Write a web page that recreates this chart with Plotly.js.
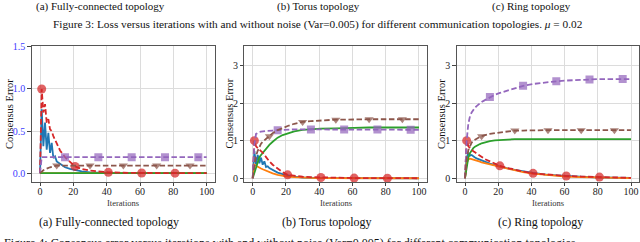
<!DOCTYPE html>
<html>
<head>
<meta charset="utf-8">
<script src="https://cdn.plot.ly/plotly-3.0.1.min.js"></script>
<style>
html,body{margin:0;padding:0;background:#fff;}
#chart{width:640px;height:242px;}
</style>
</head>
<body>
<div id="chart"></div>
<script>
// ---------- data ----------
const iterations = [0,1,2,3,4,5,6,7,8,9,10,12,15,18,21,25,30,35,41,50,55,61,70,75,81,90,95,100];

// (a) Fully-connected
const fcBlue   = [0,0.76,0.32,0.6,0.28,0.48,0.24,0.36,0.18,0.2,0.14,0.11,0.07,0.05,0.035,0.02,0.01,0.006,0.003,0.001,0,0,0,0,0,0,0,0];
const fcOrange = [0,0,0,0,0,0,0,0,0,0,0,0,0,0,0,0,0,0,0,0,0,0,0,0,0,0,0,0];
const fcGreen  = [0,0,0,0,0,0,0,0,0,0,0,0,0,0,0,0,0,0,0,0,0,0,0,0,0,0,0,0];
const fcRed    = [0,1.0,0.72,0.82,0.6,0.64,0.52,0.5,0.44,0.4,0.35,0.27,0.19,0.13,0.08,0.05,0.03,0.02,0.01,0.005,0.003,0.002,0.001,0,0,0,0,0];
const fcPurple = [0,0.19,0.19,0.19,0.19,0.19,0.19,0.19,0.19,0.19,0.19,0.19,0.19,0.19,0.19,0.19,0.19,0.19,0.19,0.19,0.19,0.19,0.19,0.19,0.19,0.19,0.19,0.19];
const fcBrown  = [0,0.02,0.035,0.045,0.055,0.065,0.07,0.075,0.08,0.085,0.09,0.09,0.09,0.09,0.09,0.09,0.09,0.09,0.09,0.09,0.09,0.09,0.09,0.09,0.09,0.09,0.09,0.09];

// (b) Torus
const toBlue   = [0,0.72,0.36,0.62,0.4,0.55,0.36,0.45,0.3,0.32,0.27,0.22,0.15,0.11,0.08,0.045,0.02,0.01,0.005,0.002,0.001,0,0,0,0,0,0,0];
const toOrange = [0,0.36,0.33,0.3,0.28,0.26,0.24,0.22,0.2,0.18,0.16,0.13,0.09,0.065,0.045,0.03,0.015,0.008,0.004,0.001,0,0,0,0,0,0,0,0];
const toGreen  = [0,0.15,0.3,0.44,0.56,0.62,0.68,0.74,0.8,0.85,0.89,0.97,1.08,1.15,1.2,1.25,1.29,1.31,1.32,1.33,1.34,1.34,1.35,1.35,1.35,1.35,1.35,1.35];
const toRed    = [0,1.0,0.85,0.8,0.78,0.72,0.68,0.62,0.56,0.5,0.45,0.36,0.25,0.16,0.09,0.06,0.04,0.03,0.02,0.01,0.008,0.005,0.003,0.002,0.001,0,0,0];
const toPurple = [0,0.9,1.18,1.21,1.23,1.24,1.25,1.25,1.26,1.26,1.26,1.27,1.28,1.29,1.29,1.3,1.3,1.3,1.3,1.3,1.3,1.3,1.3,1.3,1.29,1.29,1.29,1.29];
const toBrown  = [0,0.35,0.6,0.73,0.85,0.92,0.97,1.01,1.05,1.09,1.12,1.2,1.28,1.34,1.39,1.45,1.5,1.52,1.54,1.56,1.56,1.57,1.57,1.57,1.57,1.57,1.57,1.57];

// (c) Ring
const riBlue   = [0,0.55,0.68,0.6,0.62,0.57,0.55,0.53,0.51,0.49,0.47,0.44,0.39,0.35,0.31,0.27,0.22,0.18,0.14,0.09,0.075,0.055,0.035,0.028,0.02,0.014,0.011,0.008];
const riOrange = [0,0.4,0.5,0.52,0.51,0.5,0.48,0.47,0.45,0.44,0.42,0.4,0.36,0.32,0.29,0.25,0.2,0.16,0.12,0.08,0.065,0.045,0.03,0.023,0.016,0.01,0.008,0.005];
const riGreen  = [0,0.3,0.55,0.67,0.75,0.8,0.84,0.87,0.89,0.91,0.93,0.96,0.99,1.01,1.02,1.03,1.04,1.04,1.04,1.04,1.04,1.04,1.04,1.04,1.04,1.04,1.04,1.04];
const riRed    = [0,1.0,0.85,0.8,0.76,0.72,0.69,0.66,0.62,0.59,0.56,0.51,0.45,0.38,0.33,0.28,0.22,0.18,0.13,0.09,0.075,0.06,0.045,0.038,0.03,0.02,0.015,0.01];
const riPurple = [0,1.0,1.45,1.65,1.75,1.82,1.88,1.92,1.96,2.0,2.03,2.08,2.16,2.22,2.27,2.33,2.4,2.46,2.51,2.56,2.58,2.6,2.62,2.63,2.64,2.64,2.64,2.64];
const riBrown  = [0,0.5,0.75,0.88,0.95,1.0,1.03,1.06,1.08,1.1,1.12,1.15,1.18,1.2,1.22,1.24,1.27,1.27,1.28,1.28,1.28,1.28,1.28,1.28,1.28,1.28,1.28,1.28];

// marker iterations
const redMarkIt    = [1,21,41,61,81];
const purpleMarkIt = [15,35,55,75,95];
const brownMarkIt  = [10,30,50,70,90];

// tick labels
const xTicks = [0,20,40,60,80,100];
const fcYTicks = [0,0.5,1.0,1.5];
const fcYTickText = ["0.0","0.5","1.0","1.5"];
const otherYTicks = [0,1,2,3];

// text
const topCaptions = ["(a) Fully-connected topology","(b) Torus topology","(c) Ring topology"];
const fig3Caption = "Figure 3: Loss versus iterations with and without noise (Var=0.005) for different communication topologies. <i>μ</i> = 0.02";
const fig4Caption = "Figure 4: Consensus error versus iterations with and without noise (Var=0.005) for different communication topologies.";
const xTitle = "Iterations";
const yTitle = "Consensus Error";

// ---------- drawing ----------
const W = 640, H = 242;
const C = {blue:'#1f77b4', orange:'#ff7f0e', green:'#2ca02c', red:'#d62728', purple:'#9467bd', brown:'#8c564b'};
const SERIF = '"Liberation Serif", "DejaVu Serif", serif';
const DASH = '5.5px,2.6px';

function pick(series, its){ return its.map(i => series[iterations.indexOf(i)]); }

const traces = [];
function addPanel(n, s){
  const xa = n === 1 ? 'x' : 'x' + n, ya = n === 1 ? 'y' : 'y' + n;
  const line = (y, color, dash) => ({x: iterations, y: y, xaxis: xa, yaxis: ya, mode: 'lines',
      line: {color: color, width: 1.8, dash: dash || 'solid'}, hoverinfo: 'skip', showlegend: false});
  traces.push(line(s.blue, C.blue));
  traces.push(line(s.orange, C.orange));
  traces.push(line(s.green, C.green));
  traces.push(line(s.red, C.red, DASH));
  traces.push({x: redMarkIt, y: pick(s.red, redMarkIt), xaxis: xa, yaxis: ya, mode: 'markers',
      marker: {symbol: 'circle', size: 9, color: C.red, opacity: 0.72}, showlegend: false, hoverinfo: 'skip'});
  traces.push(line(s.purple, C.purple, DASH));
  traces.push({x: purpleMarkIt, y: pick(s.purple, purpleMarkIt), xaxis: xa, yaxis: ya, mode: 'markers',
      marker: {symbol: 'square', size: 8, color: C.purple, opacity: 0.72}, showlegend: false, hoverinfo: 'skip'});
  traces.push(line(s.brown, C.brown, DASH));
  traces.push({x: brownMarkIt, y: pick(s.brown, brownMarkIt), xaxis: xa, yaxis: ya, mode: 'markers',
      marker: {symbol: 'triangle-down', size: 8, color: C.brown, opacity: 0.72}, showlegend: false, hoverinfo: 'skip'});
}
addPanel(1, {blue: fcBlue, orange: fcOrange, green: fcGreen, red: fcRed, purple: fcPurple, brown: fcBrown});
addPanel(2, {blue: toBlue, orange: toOrange, green: toGreen, red: toRed, purple: toPurple, brown: toBrown});
addPanel(3, {blue: riBlue, orange: riOrange, green: riGreen, red: riRed, purple: riPurple, brown: riBrown});

const px = v => v / W, py = v => 1 - v / H;
const yDom = [py(182), py(46)];
const xDoms = [[px(31.7), px(215)], [px(244.4), px(427.3)], [px(456.7), px(639.3)]];

function xAxis(i){
  return {domain: xDoms[i], anchor: i === 0 ? 'y' : 'y' + (i + 1), range: [-5, 105],
    tickmode: 'array', tickvals: xTicks, ticks: 'outside', ticklen: 3, tickwidth: 1, tickcolor: '#444',
    ticklabelstandoff: -3,
    showline: true, mirror: true, linecolor: '#555', linewidth: 1,
    showgrid: true, gridcolor: '#dcdcdc', gridwidth: 1, zeroline: false,
    tickfont: {family: SERIF, size: 10, color: '#222'}, fixedrange: true};
}
function yAxis(i){
  const fc = i === 0;
  return {domain: yDom, anchor: i === 0 ? 'x' : 'x' + (i + 1),
    range: fc ? [-0.105, 1.51] : [-0.1, 3.52],
    tickmode: 'array', tickvals: fc ? fcYTicks : otherYTicks, ticktext: fc ? fcYTickText : otherYTicks.map(String),
    ticks: 'outside', ticklen: 3.5, tickwidth: 1, tickcolor: '#444',
    showline: true, mirror: true, linecolor: '#555', linewidth: 1,
    showgrid: true, gridcolor: '#dcdcdc', gridwidth: 1, zeroline: false,
    tickfont: {family: SERIF, size: 10, color: fc ? '#3b3bff' : '#222'}, fixedrange: true};
}

const ann = [];
const txt = (text, x, y, size, extra) => Object.assign({text: text, x: px(x), y: py(y), xref: 'paper', yref: 'paper',
    showarrow: false, xanchor: 'center', yanchor: 'middle', font: {family: SERIF, size: size, color: '#111'}}, extra || {});
// top captions (Figure 3 subcaptions)
[100, 318, 531].forEach((cx, i) => ann.push(txt(topCaptions[i], cx, 6.5, 11)));
ann.push(txt(fig3Caption, 317.5, 25, 11.3));
// axis titles
const xCenters = [123.3, 335.8, 548];
xCenters.forEach(cx => ann.push(txt(xTitle, cx, 202.5, 8.5, {font: {family: SERIF, size: 8.5, color: '#333'}})));
[9, 228.5, 441].forEach(cx => ann.push(txt(yTitle, cx, 114, 10.5, {textangle: -90})));
// bottom captions
[109, 327, 540].forEach((cx, i) => ann.push(txt(topCaptions[i], cx, 221.5, 12)));
ann.push(txt(fig4Caption, 2, 243, 12, {xanchor: 'left'}));

const layout = {
  width: W, height: H, margin: {l: 0, r: 0, t: 0, b: 0},
  paper_bgcolor: '#fff', plot_bgcolor: '#fff', showlegend: false,
  xaxis: xAxis(0), xaxis2: xAxis(1), xaxis3: xAxis(2),
  yaxis: yAxis(0), yaxis2: yAxis(1), yaxis3: yAxis(2),
  annotations: ann
};

Plotly.newPlot('chart', traces, layout, {staticPlot: true, displayModeBar: false});
</script>
</body>
</html>
